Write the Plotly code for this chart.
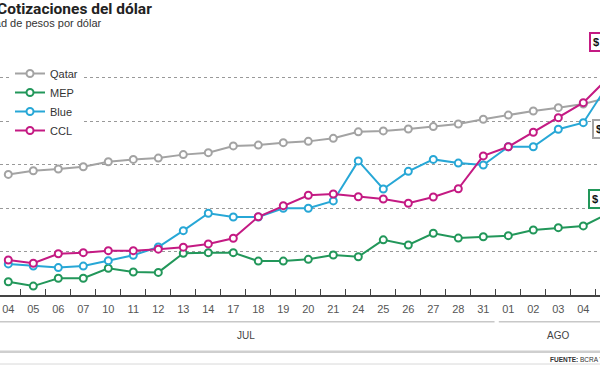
import plotly.graph_objects as go

# Dates (category labels) — July/August 2023 business days
dias = ["04", "05", "06", "07", "10", "11", "12", "13", "14", "17", "18", "19",
        "20", "21", "24", "25", "26", "27", "28", "31", "01", "02", "03", "04", "07"]
meses = ["JUL", "AGO"]

qatar = [535.5, 537.2, 538.0, 539.0, 541.3, 542.4, 543.0, 544.6, 545.5, 548.6, 549.0, 550.1,
         550.7, 552.1, 555.1, 555.5, 556.4, 557.5, 558.7, 560.9, 562.8, 564.7, 566.2, 567.9, 570.8]
mep = [486.1, 484.1, 487.7, 487.7, 492.3, 490.6, 490.4, 499.2, 499.5, 499.5, 495.6, 495.6,
       496.4, 498.4, 497.6, 505.4, 503.0, 508.4, 506.2, 506.8, 507.3, 509.9, 511.0, 511.8, 517.5]
blue = [494.3, 493.3, 492.6, 493.3, 495.8, 498.3, 502.1, 509.6, 517.6, 515.9, 515.9, 519.9,
        519.9, 523.3, 541.7, 528.8, 536.9, 542.4, 540.7, 539.8, 548.2, 548.2, 556.3, 559.3, 577.0]
ccl = [496.1, 494.6, 499.0, 499.5, 500.4, 500.4, 501.1, 502.0, 503.5, 506.1, 516.0, 521.1,
       525.9, 526.5, 525.2, 524.2, 522.2, 525.1, 528.9, 544.0, 548.2, 554.9, 561.6, 568.5, 580.0]

series = [("Qatar", qatar, "#a3a3a3"),
          ("MEP", mep, "#22975a"),
          ("Blue", blue, "#27a7d6"),
          ("CCL", ccl, "#c41a83")]

x = list(range(len(dias)))

fig = go.Figure()
for name, vals, col in series:
    fig.add_trace(go.Scatter(
        x=x, y=vals, name=name, mode="lines+markers",
        line=dict(color=col, width=2),
        marker=dict(symbol="circle", size=7, color="white",
                    line=dict(color=col, width=2)),
        cliponaxis=True,
    ))

fig.update_layout(
    width=600, height=365,
    margin=dict(l=0, r=0, t=0, b=70),
    paper_bgcolor="white", plot_bgcolor="white",
    font=dict(family="Liberation Sans, Arial, sans-serif", color="#333"),
    showlegend=True,
    legend=dict(x=10 / 600, xanchor="left", y=(295 - 59) / 295, yanchor="top",
                bgcolor="white", borderwidth=0, itemwidth=30,
                font=dict(size=11, color="#333"), tracegroupgap=0),
    xaxis=dict(
        type="linear", range=[-0.332, 23.668],
        tickmode="array", tickvals=x, ticktext=dias, ticks="",
        tickfont=dict(size=11, color="#555"), ticklabelstandoff=3,
        showgrid=False, zeroline=False,
        showline=True, linecolor="#444", linewidth=1.5,
        minor=dict(tickvals=[i + 0.5 for i in range(-1, len(dias))],
                   ticks="inside", ticklen=6, tickwidth=1, tickcolor="#444",
                   showgrid=False),
    ),
    yaxis=dict(
        range=[480, 480 + 295 / 2.173],
        tickmode="array", tickvals=[500, 520, 540, 560, 580],
        showticklabels=False, ticks="",
        showgrid=True, gridcolor="#999", gridwidth=1, griddash="dot",
        zeroline=False, showline=False,
    ),
)

# Title and subtitle (cropped at left in the reference)
fig.add_annotation(xref="paper", yref="paper", x=-5 / 600, y=(295 - 9) / 295,
                   xanchor="left", yanchor="middle", showarrow=False,
                   text="<b>Cotizaciones del dólar</b>",
                   font=dict(family="Roboto, Liberation Sans, sans-serif", size=15.5, color="#222"))
fig.add_annotation(xref="paper", yref="paper", x=-39 / 600, y=(295 - 23) / 295,
                   xanchor="left", yanchor="middle", showarrow=False,
                   text="Cantidad de pesos por dólar",
                   font=dict(size=11, color="#333"))

# Month labels and brackets
jul_idx = [i for i in range(len(dias)) if i <= 19]
ago_idx = [i for i in range(len(dias)) if i >= 20]
for idx, mes in [(jul_idx, meses[0]), (ago_idx, meses[1])]:
    fig.add_annotation(xref="x", yref="paper", x=(idx[0] + idx[-1]) / 2, y=(295 - 335) / 295,
                       xanchor="center", yanchor="middle",
                       text=mes, showarrow=False, font=dict(size=10, color="#444"))
ybr = (295 - 321.7) / 295
fig.add_shape(type="line", xref="x", yref="paper", x0=-2, x1=19.45, y0=ybr, y1=ybr,
              line=dict(color="#c8c8c8", width=1.5))
fig.add_shape(type="line", xref="x", yref="paper", x0=19.62, x1=26, y0=ybr, y1=ybr,
              line=dict(color="#c8c8c8", width=1.5))
for ypx, w, c in [(351.7, 2.5, "#cfcfcf"), (364, 1, "#d8d8d8")]:
    yy = (295 - ypx) / 295
    fig.add_shape(type="line", xref="paper", yref="paper", x0=0, x1=1, y0=yy, y1=yy,
                  line=dict(color=c, width=w))

fig.add_annotation(xref="paper", yref="paper", x=548 / 600, y=(295 - 359) / 295,
                   xanchor="left", yanchor="middle", showarrow=False,
                   text="<b>FUENTE:</b> BCRA Y MERCADO",
                   font=dict(size=6.5, color="#333"))

# Value boxes at the right edge (cropped)
boxes = [(ccl, "#c41a83", 589, 42.5), (qatar, "#a3a3a3", 591.7, 128.8), (mep, "#22975a", 587.7, 198.8)]
for vals, col, xpx, ypx in boxes:
    fig.add_annotation(xref="paper", yref="paper", x=xpx / 600, y=(295 - ypx) / 295,
                       xanchor="left", yanchor="middle", showarrow=False,
                       text=f"<b>$ {vals[-1]:.0f}</b>",
                       font=dict(size=11, color="#111"),
                       bgcolor="white", bordercolor=col, borderwidth=2, borderpad=2)

fig.write_html("out.html", config={"displayModeBar": False},
               post_script="document.body.style.margin='0';")
